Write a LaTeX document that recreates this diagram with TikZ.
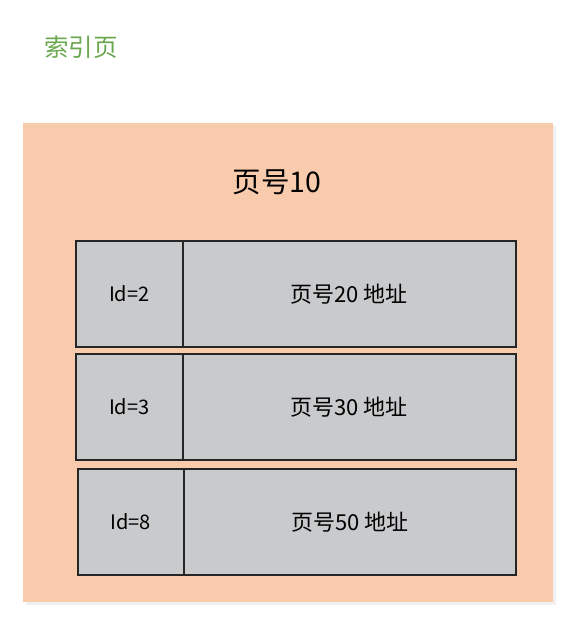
\documentclass[tikz,border=0pt]{standalone}
\usepackage{fontspec}
\setmainfont{Noto Sans CJK SC}
\usepackage{tikz}
\usepackage[rgb]{xcolor}
\definecolor{pagepeach}{HTML}{F8CBAD}
\definecolor{cellgray}{HTML}{C9CACC}
\definecolor{titlegreen}{HTML}{6AA84F}
\tikzset{
	idcell/.style={draw=black!85,line width=1.5pt,fill=cellgray,anchor=north west,minimum width=107pt,minimum height=106pt,inner sep=0pt,font=\fontsize{20}{24}\selectfont},
	addrcell/.style={draw=black!85,line width=1.5pt,fill=cellgray,anchor=north west,minimum width=333pt,minimum height=106pt,inner sep=0pt,font=\fontsize{22}{26}\selectfont}
}
\begin{document}
\begin{tikzpicture}[x=1pt,y=-1pt]
	\useasboundingbox[fill=white] (0,0) rectangle (588,625);
	\fill[black!6] (26,126) rectangle (556,605);
	\fill[pagepeach] (23,123) rectangle (553,602);
	\node[text=titlegreen,font=\fontsize{24.5}{29}\selectfont] (title) at (81,47) {索引页};
	\node[font=\fontsize{28.5}{34}\selectfont] (pageno) at (277,182) {页号10};
	\node[idcell] (id2) at (75,240) {Id=2};
	\node[addrcell] (addr20) at (182,240) {页号20 地址};
	\node[idcell] (id3) at (75,353) {Id=3};
	\node[addrcell] (addr30) at (182,353) {页号30 地址};
	\node[idcell,minimum width=106pt] (id8) at (77,468) {Id=8};
	\node[addrcell,minimum width=332pt] (addr50) at (183,468) {页号50 地址};
\end{tikzpicture}
\end{document}
